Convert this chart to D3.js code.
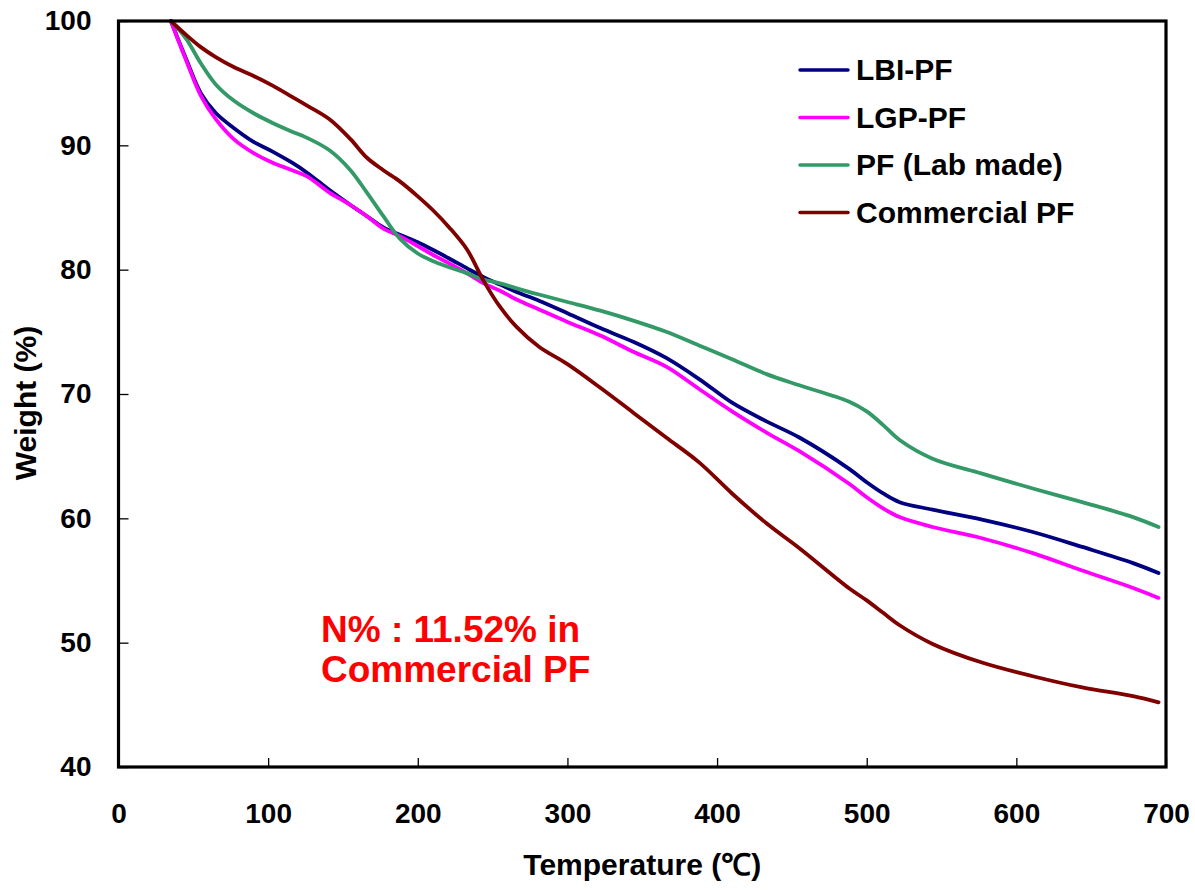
<!DOCTYPE html>
<html>
<head>
<meta charset="utf-8">
<script src="https://cdn.jsdelivr.net/npm/d3@7/dist/d3.min.js"></script>
<style>
  html, body { margin: 0; padding: 0; background: #fff; }
  svg { display: block; }
  text { font-family: "Liberation Sans", Arial, sans-serif; font-weight: bold; }
</style>
</head>
<body>
<svg id="chart" width="1195" height="890"></svg>
<script>
// Temperature grid (°C) shared by all TGA curves
const temperature = [35, 45, 55, 65, 77, 90, 103, 116, 126, 141, 155, 166, 177, 188, 200, 210, 221, 233, 244, 255,
  266, 281, 300, 322, 344, 366, 388, 410, 433, 455, 488, 500, 511, 522, 544, 577, 611, 644, 678, 695];

// Remaining weight (%) for each sample
const lbiPF = [100, 97.0, 94.2, 92.6, 91.4, 90.3, 89.5, 88.6, 87.8, 86.4, 85.2, 84.3, 83.4, 82.8, 82.2, 81.6, 80.9, 80.1, 79.4, 78.8,
  78.2, 77.5, 76.5, 75.3, 74.2, 72.9, 71.2, 69.3, 67.8, 66.5, 64.0, 62.9, 62.0, 61.3, 60.7, 59.9, 58.9, 57.7, 56.4, 55.6];
const lgpPF = [100, 96.9, 94.0, 92.1, 90.5, 89.4, 88.6, 88.0, 87.5, 86.2, 85.2, 84.3, 83.3, 82.7, 81.9, 81.2, 80.5, 79.7, 78.9, 78.3,
  77.6, 76.8, 75.8, 74.7, 73.4, 72.2, 70.4, 68.6, 66.9, 65.4, 62.8, 61.7, 60.8, 60.1, 59.3, 58.4, 57.2, 55.8, 54.4, 53.6];
const labPF = [100, 98.6, 96.6, 94.9, 93.6, 92.6, 91.8, 91.1, 90.6, 89.6, 88.0, 86.2, 84.3, 82.5, 81.3, 80.7, 80.2, 79.7, 79.2, 78.9,
  78.5, 78.0, 77.4, 76.7, 75.9, 75.0, 73.9, 72.8, 71.6, 70.7, 69.4, 68.6, 67.5, 66.3, 64.8, 63.6, 62.4, 61.3, 60.1, 59.3];
const commercialPF = [100, 98.9, 97.9, 97.1, 96.3, 95.6, 94.8, 93.9, 93.2, 92.1, 90.5, 89.0, 88.0, 87.1, 85.9, 84.8, 83.4, 81.6, 79.1, 77.0,
  75.4, 73.8, 72.4, 70.5, 68.5, 66.5, 64.5, 62.0, 59.6, 57.6, 54.4, 53.4, 52.4, 51.4, 49.9, 48.4, 47.3, 46.4, 45.7, 45.2];

const seriesNames = ["LBI-PF", "LGP-PF", "PF (Lab made)", "Commercial PF"];
const seriesValues = [lbiPF, lgpPF, labPF, commercialPF];
const seriesColors = ["#000080", "#FF00FF", "#339966", "#800000"];

const xTicks = [0, 100, 200, 300, 400, 500, 600, 700];
const yTicks = [40, 50, 60, 70, 80, 90, 100];

const svg = d3.select("#chart");
const plotLeft = 118.5, plotRight = 1166, plotTop = 21, plotBottom = 767;

const x = d3.scaleLinear().domain([0, 700]).range([plotLeft, plotRight]);
const y = d3.scaleLinear().domain([40, 100]).range([plotBottom, plotTop]);

// Axes with inward ticks
const xAxis = svg.append("g")
  .attr("transform", `translate(0,${plotBottom})`)
  .call(d3.axisBottom(x).tickValues(xTicks).tickSizeInner(-9).tickSizeOuter(0));
xAxis.select(".domain").remove();
xAxis.selectAll(".tick line").attr("stroke", "#000").attr("stroke-width", 1.3);
xAxis.selectAll(".tick text").attr("font-size", 28).attr("fill", "#000")
  .attr("y", 56).attr("dy", null);

const yAxis = svg.append("g")
  .attr("transform", `translate(${plotLeft},0)`)
  .call(d3.axisLeft(y).tickValues(yTicks).tickSizeInner(-10).tickSizeOuter(0));
yAxis.select(".domain").remove();
yAxis.selectAll(".tick line").attr("stroke", "#000").attr("stroke-width", 1.3);
yAxis.selectAll(".tick text").attr("font-size", 28).attr("fill", "#000").attr("x", -27);

// Curves
const line = d3.line()
  .x((d, i) => x(temperature[i]))
  .y(d => y(d))
  .curve(d3.curveCatmullRom.alpha(0.5));

seriesValues.forEach((vals, k) => {
  svg.append("path")
    .datum(vals)
    .attr("d", line)
    .attr("fill", "none")
    .attr("stroke", seriesColors[k])
    .attr("stroke-width", 3.8)
    .attr("stroke-linejoin", "round")
    .attr("stroke-linecap", "round");
});

// Plot frame
svg.append("rect")
  .attr("x", plotLeft).attr("y", plotTop)
  .attr("width", plotRight - plotLeft).attr("height", plotBottom - plotTop)
  .attr("fill", "none").attr("stroke", "#000").attr("stroke-width", 3.2);

// Legend
const legend = svg.append("g");
seriesNames.forEach((name, k) => {
  const ly = 70 + k * 47.5;
  legend.append("line")
    .attr("x1", 800).attr("x2", 848).attr("y1", ly).attr("y2", ly)
    .attr("stroke", seriesColors[k]).attr("stroke-width", 3.5).attr("stroke-linecap", "round");
  legend.append("text")
    .attr("x", 856).attr("y", ly + 10)
    .attr("font-size", 30).attr("fill", "#000")
    .text(name);
});

// Annotation
const note = svg.append("text").attr("font-size", 37).attr("fill", "#FF0000");
note.append("tspan").attr("x", 321).attr("y", 642).text("N% : 11.52% in");
note.append("tspan").attr("x", 321).attr("y", 682).text("Commercial PF");

// Axis titles
svg.append("text")
  .attr("x", (plotLeft + plotRight) / 2).attr("y", 875)
  .attr("text-anchor", "middle").attr("font-size", 30).attr("fill", "#000")
  .text("Temperature (℃)");

svg.append("text")
  .attr("transform", `translate(36,403) rotate(-90)`)
  .attr("text-anchor", "middle").attr("font-size", 30).attr("fill", "#000")
  .text("Weight (%)");
</script>
</body>
</html>
